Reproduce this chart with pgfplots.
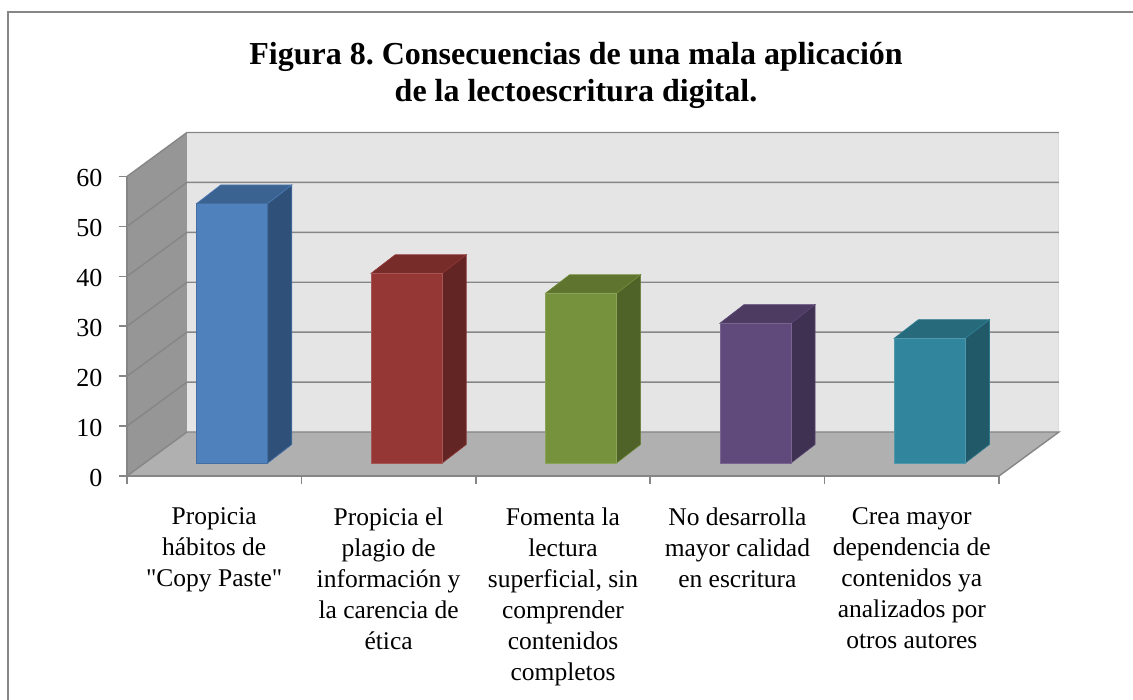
\documentclass[border=0pt]{standalone}
\usepackage{fontspec}
\setmainfont{Liberation Serif}
\newfontfamily\plainserif{Liberation Serif}
\usepackage{pgfplots}
\pgfplotsset{compat=1.18}
\definecolor{axisgray}{HTML}{868686}
\definecolor{fa}{HTML}{4F81BD}\definecolor{sa}{HTML}{2F5078}\definecolor{ta}{HTML}{3B6392}
\definecolor{fb}{HTML}{953735}\definecolor{sb}{HTML}{632523}\definecolor{tb}{HTML}{772C2A}
\definecolor{fc}{HTML}{76923C}\definecolor{sc}{HTML}{4F6228}\definecolor{tc}{HTML}{5F752F}
\definecolor{fd}{HTML}{604A7B}\definecolor{sd}{HTML}{3F3151}\definecolor{td}{HTML}{4D3B62}
\definecolor{fe}{HTML}{31859C}\definecolor{se}{HTML}{215968}\definecolor{te}{HTML}{276A7C}
\begin{document}
\frenchspacing
\begin{tikzpicture}[x=1pt,y=1pt]
\useasboundingbox (0,0) rectangle (1133,700);
\fill[white] (0,0) rectangle (1133,700);
\draw[color=axisgray,line width=2pt] (8,0) -- (8,688) -- (1133,688);
% frame: walls, floor, grid, ticks and labels
\begin{axis}[
  at={(127pt,224pt)}, anchor=origin,
  scale only axis, width=872pt, height=299.5pt,
  xmin=0.5, xmax=5.5, ymin=0, ymax=60,
  clip=false, axis on top=true,
  axis lines=left, axis line style={-,color=axisgray,line width=1.6pt},
  ytick={0,10,20,30,40,50,60},
  xtick={0.5,1.5,2.5,3.5,4.5,5.5},
  xticklabels={},
  tick align=outside,
  major tick length=8pt,
  tick style={color=axisgray,line width=1.6pt},
  /pgf/number format/assume math mode=true,
  yticklabel style={font=\fontsize{26}{30}\selectfont,color=black,xshift=-13pt,yshift=-1.5pt},
  extra x ticks={1,2,3,4,5},
  extra x tick style={major tick length=0pt,
    tick style={draw=none},
    xticklabel style={font=\fontsize{25.5}{31}\selectfont,color=black,align=center,yshift=-28.5pt,anchor=north}},
  extra x tick labels={
    {Propicia\\hábitos de\\{\plainserif"}Copy Paste{\plainserif"}},
    {Propicia el\\plagio de\\información y\\la carencia de\\ética},
    {Fomenta la\\lectura\\superficial, sin\\comprender\\contenidos\\completos},
    {No desarrolla\\mayor calidad\\en escritura},
    {Crea mayor\\dependencia de\\contenidos ya\\analizados por\\otros autores}},
  title={Figura 8. Consecuencias de una mala aplicación\\de la lectoescritura digital.},
  title style={font=\fontsize{32}{37.5}\selectfont\bfseries,align=center,at={(0.5,1)},anchor=south,xshift=13pt,yshift=58pt},
]
\addplot[fill=black!41,draw=none] coordinates {(0.5,0)(0.844,8.82)(0.844,68.82)(0.5,60)} --cycle;
\addplot[fill=black!10,draw=none] coordinates {(0.844,8.82)(5.844,8.82)(5.844,68.82)(0.844,68.82)} --cycle;
\addplot[fill=black!31,draw=none] coordinates {(0.5,0)(5.5,0)(5.844,8.82)(0.844,8.82)} --cycle;
\addplot[color=black!14,line width=1pt] coordinates {(5.844,8.82)(5.844,68.82)};
\addplot[color=axisgray,line width=1.4pt] coordinates {(0.5,0)(0.844,8.82)(5.844,8.82)(5.5,0)};
\addplot[color=axisgray,line width=1.4pt] coordinates {(0.5,10)(0.844,18.82)(5.844,18.82)};
\addplot[color=axisgray,line width=1.4pt] coordinates {(0.5,20)(0.844,28.82)(5.844,28.82)};
\addplot[color=axisgray,line width=1.4pt] coordinates {(0.5,30)(0.844,38.82)(5.844,38.82)};
\addplot[color=axisgray,line width=1.4pt] coordinates {(0.5,40)(0.844,48.82)(5.844,48.82)};
\addplot[color=axisgray,line width=1.4pt] coordinates {(0.5,50)(0.844,58.82)(5.844,58.82)};
\addplot[color=axisgray,line width=1.4pt] coordinates {(0.5,60)(0.844,68.82)(5.844,68.82)};
\end{axis}
% bars: their base stands 13 px inside the floor
\begin{axis}[
  at={(127pt,237pt)}, anchor=origin,
  scale only axis, width=872pt, height=299.5pt,
  xmin=0.5, xmax=5.5, ymin=0, ymax=60,
  clip=false, hide axis,
]
% side faces
\addplot[fill=sa,draw=fa!70!sa,line width=.7pt] coordinates {(1.307,0)(1.445,3.71)(1.445,55.71)(1.307,52)} --cycle;
\addplot[fill=sb,draw=fb!70!sb,line width=.7pt] coordinates {(2.307,0)(2.445,3.71)(2.445,41.71)(2.307,38)} --cycle;
\addplot[fill=sc,draw=fc!70!sc,line width=.7pt] coordinates {(3.307,0)(3.445,3.71)(3.445,37.71)(3.307,34)} --cycle;
\addplot[fill=sd,draw=fd!70!sd,line width=.7pt] coordinates {(4.307,0)(4.445,3.71)(4.445,31.71)(4.307,28)} --cycle;
\addplot[fill=se,draw=fe!70!se,line width=.7pt] coordinates {(5.307,0)(5.445,3.71)(5.445,28.71)(5.307,25)} --cycle;
% top faces
\addplot[fill=ta,draw=fa!70!ta,line width=.7pt] coordinates {(0.90,52)(1.307,52)(1.445,55.71)(1.038,55.71)} --cycle;
\addplot[fill=tb,draw=fb!70!tb,line width=.7pt] coordinates {(1.90,38)(2.307,38)(2.445,41.71)(2.038,41.71)} --cycle;
\addplot[fill=tc,draw=fc!70!tc,line width=.7pt] coordinates {(2.90,34)(3.307,34)(3.445,37.71)(3.038,37.71)} --cycle;
\addplot[fill=td,draw=fd!70!td,line width=.7pt] coordinates {(3.90,28)(4.307,28)(4.445,31.71)(4.038,31.71)} --cycle;
\addplot[fill=te,draw=fe!70!te,line width=.7pt] coordinates {(4.90,25)(5.307,25)(5.445,28.71)(5.038,28.71)} --cycle;
% front faces
\addplot[ybar,bar width=71pt,bar shift=18.1pt,fill=fa,draw=fa!85!black,line width=.7pt] coordinates {(1,52)};
\addplot[ybar,bar width=71pt,bar shift=18.1pt,fill=fb,draw=fb!85!white,line width=.7pt] coordinates {(2,38)};
\addplot[ybar,bar width=71pt,bar shift=18.1pt,fill=fc,draw=fc!85!white,line width=.7pt] coordinates {(3,34)};
\addplot[ybar,bar width=71pt,bar shift=18.1pt,fill=fd,draw=fd!85!white,line width=.7pt] coordinates {(4,28)};
\addplot[ybar,bar width=71pt,bar shift=18.1pt,fill=fe,draw=fe!85!white,line width=.7pt] coordinates {(5,25)};
\end{axis}
\end{tikzpicture}
\end{document}
